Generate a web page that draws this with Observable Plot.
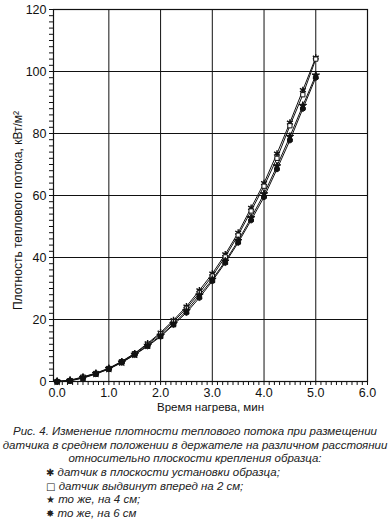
<!DOCTYPE html>
<html><head><meta charset="utf-8">
<script src="https://cdn.jsdelivr.net/npm/d3@7"></script>
<script src="https://cdn.jsdelivr.net/npm/@observablehq/plot@0.6"></script>
<style>
body{margin:0;background:#fff;font-family:"Liberation Sans",Arial,sans-serif;}
svg{display:block;}
#cap{font-style:italic;font-size:11.5px;color:#222;line-height:13.7px;}
#cap div{height:13.7px;white-space:nowrap;}
#cap .c{text-align:center;}
#cap .l{padding-left:46px;}
.sym{font-style:normal;font-family:"DejaVu Sans",sans-serif;font-size:10px;line-height:13.7px;}
</style></head><body>
<div id="chart"></div>
<div id="cap"></div>
<script>
const time = [0,0.25,0.5,0.75,1.0,1.25,1.5,1.75,2.0,2.25,2.5,2.75,3.0,3.25,3.5,3.75,4.0,4.25,4.5,4.75,5.0];
const sensorInPlane = [0,0.4,1.5,2.7,4.3,6.5,9.1,12.3,15.8,19.8,24.2,29.4,34.8,41.0,48.0,56.0,64.0,73.5,83.5,94.0,104.5];
const sensor2cm     = [0,0.3,1.4,2.6,4.2,6.4,9.0,12.0,15.4,19.3,23.6,28.6,34.0,40.2,47.2,55.0,63.0,72.0,82.5,92.5,104.0];
const sensor4cm     = [0,0.3,1.2,2.5,4.1,6.2,8.7,11.6,14.8,18.6,22.8,27.8,32.9,38.8,45.4,52.8,60.5,69.5,79.0,89.0,98.8];
const sensor6cm     = [0,0.2,1.1,2.4,4.0,6.1,8.6,11.4,14.5,18.3,22.2,27.0,32.4,38.3,44.8,52.0,59.5,68.5,77.8,88.0,98.0];
const xTicks = [0,1,2,3,4,5,6];
const yTicks = [0,20,40,60,80,100,120];
const xTitle = "Время нагрева, мин";
const yTitle = "Плотность теплового потока, кВт/м²";
const captionLines = [
  "Рис. 4. Изменение плотности теплового потока при размещении",
  "датчика в среднем положении в держателе на различном расстоянии",
  "относительно плоскости крепления образца:"
];
const legendItems = [
  ["✱","датчик в плоскости установки образца;"],
  ["□","датчик выдвинут вперед на 2 см;"],
  ["★","то же, на 4 см;"],
  ["✸","то же, на 6 см"]
];
const seriesList = [
  {name:"plane", values:sensorInPlane, symbol:"asterisk"},
  {name:"2cm", values:sensor2cm, symbol:"square"},
  {name:"4cm", values:sensor4cm, symbol:"star"},
  {name:"6cm", values:sensor6cm, symbol:"hexagon"}
];
const rows = seriesList.flatMap(s => time.map((t,i)=>({t, v:s.values[i], s:s.name, sym:s.symbol})));

const minorX = d3.range(0,61).map(i=>i/10);
const minorY = d3.range(0,61).map(i=>i*2);

const marks = [
  Plot.ruleX(xTicks.filter(d=>d>0), {stroke:"#111", strokeWidth:1}),
  Plot.ruleY(yTicks.filter(d=>d>0), {stroke:"#111", strokeWidth:1}),
  Plot.frame({stroke:"#111", strokeWidth:1.2}),
  Plot.axisX(minorX, {tickSize:4, tickFormat:()=>"", stroke:"#111", label:null}),
  Plot.axisY(minorY, {tickSize:4, tickFormat:()=>"", stroke:"#111", label:null}),
  Plot.axisX(xTicks, {tickSize:0, tickPadding:7, tickFormat:d3.format(".1f"), fontSize:12.5, label:null}),
  Plot.axisY(yTicks, {tickSize:0, tickPadding:7, fontSize:12.5, label:null}),
];
for (const s of seriesList) {
  const data = rows.filter(r=>r.s===s.name);
  marks.push(Plot.line(data, {x:"t", y:"v", stroke:"#111", strokeWidth:1}));
  const filled = s.symbol !== "square";
  marks.push(Plot.dot(data, {x:"t", y:"v", symbol:()=>s.symbol, r: s.symbol==="asterisk"?3.2:2.4,
    fill: filled ? "#111" : "white", stroke:"#111", strokeWidth: s.symbol==="asterisk"?1.4:1}));
}
marks.push(Plot.text([yTitle], {frameAnchor:"left", textAnchor:"middle", rotate:-90, dx:-35, dy:15, fontSize:12, fill:"#111"}));
marks.push(Plot.text([xTitle], {frameAnchor:"bottom", dy:29, fontSize:11.5, fill:"#111"}));

const chart = Plot.plot({
  width:390, height:420,
  marginLeft:53, marginRight:23, marginTop:9, marginBottom:39,
  style:{fontFamily:"'Liberation Sans', Arial, sans-serif", color:"#111", background:"white"},
  x:{domain:[-0.07,6], axis:null},
  y:{domain:[0,120], axis:null},
  symbol:{type:"identity"},
  marks
});
document.getElementById("chart").appendChild(chart);
const cap = document.getElementById("cap");
cap.style.marginTop = "5px";
for (const l of captionLines){const d=document.createElement("div");d.className="c";d.textContent=l;cap.appendChild(d);}
for (const [sy,t] of legendItems){const d=document.createElement("div");d.className="l";
  const sp=document.createElement("span");sp.className="sym";sp.textContent=sy+" ";d.appendChild(sp);
  d.appendChild(document.createTextNode(t));cap.appendChild(d);}
</script></body></html>
